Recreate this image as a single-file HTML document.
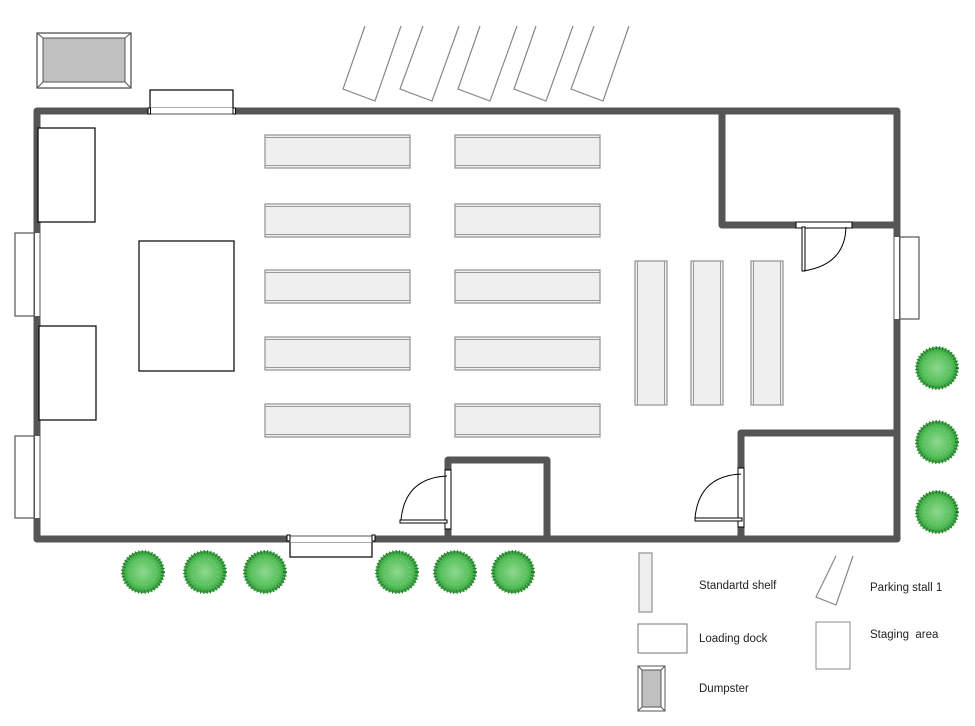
<!DOCTYPE html>
<html><head><meta charset="utf-8"><style>html,body{margin:0;padding:0;background:#fff}svg{display:block}text{font-family:"Liberation Sans",sans-serif;font-size:11.5px;fill:#222}</style></head>
<body>
<svg width="975" height="726" viewBox="0 0 975 726" xmlns="http://www.w3.org/2000/svg">
<defs>
<radialGradient id="tg" cx="50%" cy="50%" r="50%"><stop offset="0" stop-color="#8fd98f"/><stop offset="0.7" stop-color="#55bf5a"/><stop offset="1" stop-color="#3aa040"/></radialGradient>
<g id="tree"><circle r="21" fill="url(#tg)"/><circle r="20" fill="none" stroke="#1f7a2a" stroke-width="4" stroke-dasharray="1 2.2"/><circle r="13" fill="none" stroke="#9ee09e" stroke-width="1" stroke-dasharray="1 3" opacity="0.6"/></g>
<g id="hs"><rect x="0" y="0" width="145" height="33" fill="#efefef" stroke="#999" stroke-width="1.3"/><line x1="0" y1="2.5" x2="145" y2="2.5" stroke="#999"/><line x1="0" y1="30.5" x2="145" y2="30.5" stroke="#999"/></g>
<g id="vs"><rect x="0" y="0" width="32" height="144" fill="#efefef" stroke="#999" stroke-width="1.3"/><line x1="2.5" y1="0" x2="2.5" y2="144" stroke="#999"/><line x1="29.5" y1="0" x2="29.5" y2="144" stroke="#999"/></g>
</defs>
<!-- dumpster -->
<rect x="37" y="33" width="94" height="55" fill="#fff" stroke="#555" stroke-width="1.3"/>
<rect x="43" y="38" width="82" height="44" fill="#c0c0c0" stroke="#555"/>
<path d="M37 33L43 38M131 33L125 38M37 88L43 82M131 88L125 82" stroke="#555"/>
<!-- parking stalls -->
<g fill="none" stroke="#888" stroke-width="1.2">
<path d="M365 26L343 89L375 101L401 26"/>
<path d="M423 26L400 89L432 101L459 26"/>
<path d="M480 26L458 89L490 101L517 26"/>
<path d="M536 26L514 89L546 101L573 26"/>
<path d="M594 26L571 89L603 101L629 26"/>
</g>
<!-- docks outside -->
<rect x="150" y="90" width="83" height="20" fill="#fff" stroke="#000" stroke-width="1.2"/>
<rect x="15" y="233" width="20" height="83" fill="#fff" stroke="#555" stroke-width="1.2"/>
<rect x="15" y="436" width="20" height="82" fill="#fff" stroke="#555" stroke-width="1.2"/>
<rect x="897" y="237" width="22" height="82" fill="#fff" stroke="#555" stroke-width="1.2"/>
<rect x="290" y="539" width="82" height="18" fill="#fff" stroke="#000" stroke-width="1.2"/>
<!-- walls -->
<g stroke="#555" stroke-width="7" fill="none" stroke-linejoin="round">
<path d="M37 539L37 111L897 111L897 539Z"/>
<path d="M722 111L722 225L897 225"/>
<path d="M448 539L448 460L547 460L547 539"/>
<path d="M741 539L741 433L897 433"/>
</g>
<!-- windows in walls -->
<rect x="150" y="108" width="83" height="6" fill="#fff" stroke="none"/>
<line x1="150" y1="113.5" x2="233" y2="113.5" stroke="#aaa"/>
<rect x="148" y="108" width="2.5" height="6" fill="#fff" stroke="#000"/><rect x="233" y="108" width="2.5" height="6" fill="#fff" stroke="#000"/>
<rect x="34" y="233" width="6" height="83" fill="#fff"/><line x1="34.5" y1="233" x2="34.5" y2="316" stroke="#555"/><line x1="39.5" y1="233" x2="39.5" y2="316" stroke="#aaa"/>
<rect x="34" y="436" width="6" height="82" fill="#fff"/><line x1="34.5" y1="436" x2="34.5" y2="518" stroke="#555"/><line x1="39.5" y1="436" x2="39.5" y2="518" stroke="#aaa"/>
<rect x="894" y="237" width="6" height="82" fill="#fff"/><line x1="894.5" y1="237" x2="894.5" y2="319" stroke="#aaa"/><line x1="899.5" y1="237" x2="899.5" y2="319" stroke="#555"/>
<rect x="290" y="536" width="82" height="6" fill="#fff"/><line x1="290" y1="536.5" x2="372" y2="536.5" stroke="#aaa"/>
<rect x="287" y="535" width="3" height="6" fill="#fff" stroke="#000"/><rect x="372" y="535" width="3" height="6" fill="#fff" stroke="#000"/>
<!-- interior rects -->
<rect x="38" y="128" width="57" height="94" fill="#fff" stroke="#000" stroke-width="1.2"/>
<rect x="39" y="326" width="57" height="94" fill="#fff" stroke="#000" stroke-width="1.2"/>
<rect x="139" y="241" width="95" height="130" fill="#fff" stroke="#000" stroke-width="1.2"/>
<!-- shelves -->
<use href="#hs" x="265" y="135"/><use href="#hs" x="455" y="135"/>
<use href="#hs" x="265" y="204"/><use href="#hs" x="455" y="204"/>
<use href="#hs" x="265" y="270"/><use href="#hs" x="455" y="270"/>
<use href="#hs" x="265" y="337"/><use href="#hs" x="455" y="337"/>
<use href="#hs" x="265" y="404"/><use href="#hs" x="455" y="404"/>
<use href="#vs" x="635" y="261"/><use href="#vs" x="691" y="261"/><use href="#vs" x="751" y="261"/>
<!-- doors -->
<rect x="796" y="222" width="56" height="6" fill="#fff" stroke="#000"/>
<rect x="802" y="227" width="3" height="44" fill="#fff" stroke="#000"/>
<path d="M846 227Q845 265 803 271" fill="none" stroke="#000"/>
<rect x="445" y="470" width="6" height="59" fill="#fff" stroke="#000"/>
<rect x="400" y="520" width="47" height="3" fill="#fff" stroke="#000"/>
<path d="M447 476Q405 478 401 520" fill="none" stroke="#000"/>
<rect x="738" y="468" width="6" height="59" fill="#fff" stroke="#000"/>
<rect x="695" y="518" width="47" height="3" fill="#fff" stroke="#000"/>
<path d="M741 474Q699 476 695 518" fill="none" stroke="#000"/>
<!-- trees -->
<use href="#tree" x="143" y="572"/><use href="#tree" x="205" y="572"/><use href="#tree" x="265" y="572"/>
<use href="#tree" x="397" y="572"/><use href="#tree" x="455" y="572"/><use href="#tree" x="513" y="572"/>
<use href="#tree" x="937" y="368"/><use href="#tree" x="937" y="442"/><use href="#tree" x="937" y="512"/>
<!-- legend -->
<rect x="639" y="553" width="13" height="59" fill="#efefef" stroke="#999" stroke-width="1.3"/>
<text x="699" y="589">Standartd shelf</text>
<rect x="638" y="624" width="49" height="29" fill="#fff" stroke="#777"/>
<text x="699" y="642">Loading dock</text>
<rect x="638" y="666" width="27" height="45" fill="#fff" stroke="#555"/>
<rect x="642" y="670" width="19" height="37" fill="#c0c0c0" stroke="#555"/>
<path d="M638 666L642 670M665 666L661 670M638 711L642 707M665 711L661 707" stroke="#555"/>
<text x="699" y="692">Dumpster</text>
<path d="M836 556L816 597L836 605L853 556" fill="none" stroke="#888" stroke-width="1.2"/>
<text x="870" y="591">Parking stall 1</text>
<rect x="816" y="622" width="34" height="47" fill="#fff" stroke="#888"/>
<text x="870" y="638" xml:space="preserve">Staging  area</text>
</svg>
</body></html>
